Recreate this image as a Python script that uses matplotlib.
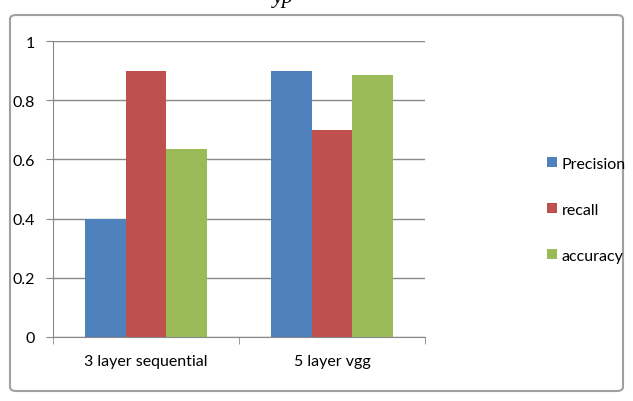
import numpy as np
import matplotlib.pyplot as plt
from matplotlib.patches import FancyBboxPatch

categories = ["3 layer sequential", "5 layer vgg"]
series_names = ["Precision", "recall", "accuracy"]
precision = [0.40, 0.90]
recall = [0.90, 0.70]
accuracy = [0.635, 0.885]
colors = ["#4F81BD", "#C0504D", "#9BBB59"]

plt.rcParams['font.family'] = ['Lato', 'DejaVu Sans']

fig = plt.figure(figsize=(6.33, 4.02), dpi=100)

# chart frame
frame = FancyBboxPatch((10/633, 10/402), 613/633, 376/402,
                       boxstyle="round,pad=0,rounding_size=0.01",
                       transform=fig.transFigure, facecolor="white",
                       edgecolor="#a0a0a0", linewidth=1.5, zorder=-5)
fig.patches.append(frame)

# caption above the chart, cut off by the image edge
fig.text(283/633, 1 + 1/402, "yp", fontsize=16, style="italic", family="Liberation Serif",
         ha="center", va="center")

ax = fig.add_axes([53/633, 1 - 338/402, 372/633, 296/402], zorder=2)
ax.patch.set_alpha(0)
x = np.arange(len(categories))
w = 0.22
for i, (vals, name) in enumerate(zip([precision, recall, accuracy], series_names)):
    ax.bar(x + (i - 1) * w, vals, w, color=colors[i], label=name, zorder=2)

ax.set_xlim(-0.5, 1.5)
ax.set_ylim(0, 1)
ax.set_yticks(np.arange(0, 1.01, 0.2))
ax.set_yticklabels(["0", "0.2", "0.4", "0.6", "0.8", "1"])
ax.set_xticks(x)
ax.set_xticklabels(categories)
ax.set_xticks([-0.5, 0.5, 1.5], minor=True)
ax.tick_params(axis="x", which="major", length=0, pad=12)
ax.tick_params(axis="x", which="minor", length=5, color="#888888")
ax.tick_params(axis="y", length=5, color="#888888", pad=8)
ax.tick_params(labelsize=11.5)
ax.grid(axis="y", color="#888888", linewidth=1, zorder=0)
for s in ["top", "right"]:
    ax.spines[s].set_visible(False)
ax.spines["left"].set_color("#888888")
ax.spines["bottom"].set_color("#888888")

ax.legend(loc="center left", bbox_to_anchor=(1.29, 0.43), frameon=False,
          fontsize=11.5, handlelength=0.6, handleheight=0.6, handletextpad=0.3,
          labelspacing=2.0)

fig.savefig("out.png", dpi=100)
